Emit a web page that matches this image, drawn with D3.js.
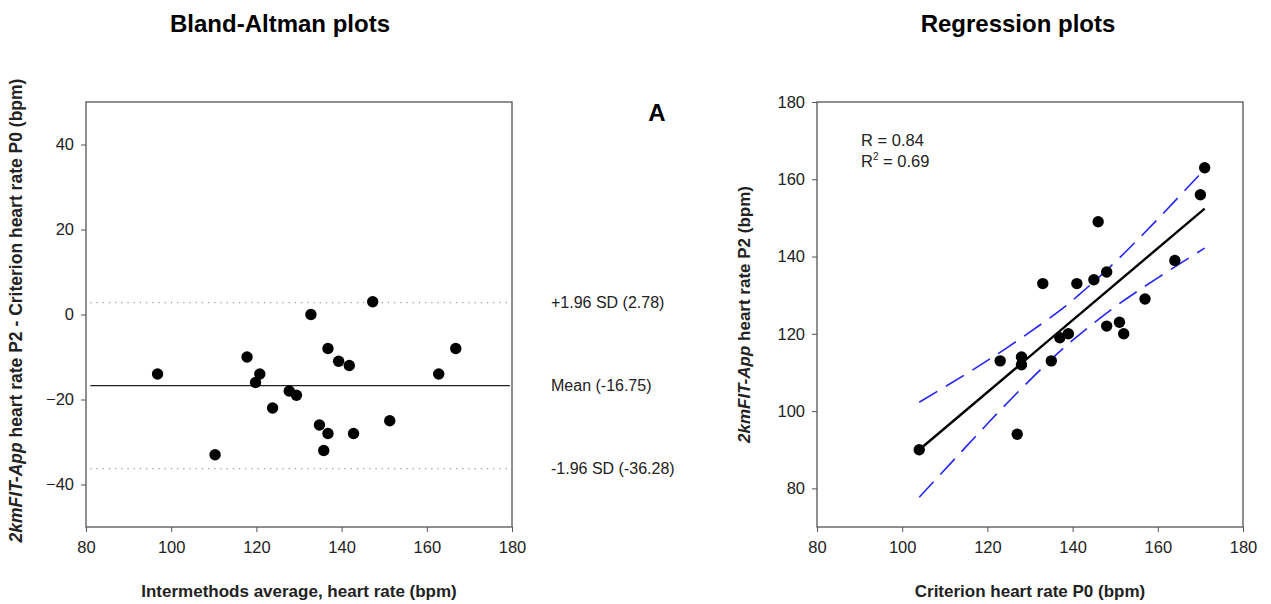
<!DOCTYPE html>
<html>
<head>
<meta charset="utf-8">
<script src="https://cdn.jsdelivr.net/npm/d3@7"></script>
<style>
  body { margin: 0; background: #fff; }
  svg { display: block; font-family: Arial, "Liberation Sans", sans-serif; }
  .tick text { font-size: 16.5px; fill: #222; }
  .tick line { stroke: #555; }
</style>
</head>
<body>
<div id="chart"></div>
<script>
// Bland-Altman panel
var baAvg = [96.8, 110.3, 117.8, 120.8, 119.8, 123.8, 127.7, 129.4, 132.8, 134.8, 135.8, 136.8, 136.8, 139.3, 141.8, 142.8, 147.3, 151.3, 162.8, 166.8];
var baDiff = [-14, -33, -10, -14, -16, -22, -18, -19, 0, -26, -32, -28, -8, -11, -12, -28, 3, -25, -14, -8];
var baLines = [2.78, -16.75, -36.28];
var baLineLabels = ["+1.96 SD (2.78)", "Mean (-16.75)", "-1.96 SD (-36.28)"];
var baYTicks = [-40, -20, 0, 20, 40];

// Regression panel
var regP0 = [104, 123, 128, 128, 127, 133, 135, 137, 139, 141, 145, 146, 148, 148, 151, 152, 157, 164, 170, 171];
var regP2 = [90, 113, 114, 112, 94, 133, 113, 119, 120, 133, 134, 149, 136, 122, 123, 120, 129, 139, 156, 163];
var fitX = [104, 171];
var fitY = [90.0, 152.4];
var bandX = [104, 115, 125, 135, 141.4, 150, 160, 171];
var bandUpper = [102.3, 109.6, 116.7, 124.4, 130, 138.6, 149.7, 162.6];
var bandLower = [77.7, 90.8, 102.5, 113.4, 119.6, 127, 134.5, 142.2];
var regYTicks = [80, 100, 120, 140, 160, 180];

var xTicks = [80, 100, 120, 140, 160, 180];

var W = 1271, H = 604;
var plotTop = 102, plotBottom = 527;

var svg = d3.select("#chart").append("svg").attr("width", W).attr("height", H);

function drawAxes(g, xs, ys, yTicks) {
  g.append("g")
    .attr("transform", "translate(0," + plotBottom + ")")
    .call(d3.axisBottom(xs).tickValues(xTicks).tickSize(5).tickSizeOuter(0).tickPadding(9))
    .call(a => a.select(".domain").remove());
  g.append("g")
    .attr("transform", "translate(" + xs.range()[0] + ",0)")
    .call(d3.axisLeft(ys).tickValues(yTicks).tickSize(5).tickSizeOuter(0).tickPadding(7))
    .call(a => a.select(".domain").remove());
  g.append("rect")
    .attr("x", xs.range()[0]).attr("y", plotTop)
    .attr("width", xs.range()[1] - xs.range()[0])
    .attr("height", plotBottom - plotTop)
    .attr("fill", "none").attr("stroke", "#555").attr("stroke-width", 1.3);
}

// ---------------- left: Bland-Altman ----------------
var xs1 = d3.scaleLinear().domain([80, 180]).range([86, 512]);
var ys1 = d3.scaleLinear().domain([-50, 50]).range([plotBottom, plotTop]);
var left = svg.append("g");

left.selectAll(".baline")
  .data(baLines)
  .enter()
  .append("line")
  .attr("x1", xs1(81)).attr("x2", xs1(179.5))
  .attr("y1", d => ys1(d)).attr("y2", d => ys1(d))
  .attr("stroke", (d, i) => i == 1 ? "#222" : "#999")
  .attr("stroke-width", 1.2)
  .attr("stroke-dasharray", (d, i) => i == 1 ? null : "1.2,5");

drawAxes(left, xs1, ys1, baYTicks);

left.selectAll("circle")
  .data(baAvg)
  .enter()
  .append("circle")
  .attr("cx", d => xs1(d))
  .attr("cy", (d, i) => ys1(baDiff[i]))
  .attr("r", 5.7)
  .attr("fill", "#000");

left.selectAll(".balabel")
  .data(baLines)
  .enter()
  .append("text")
  .attr("x", 551)
  .attr("y", d => ys1(d))
  .attr("dy", "0.35em")
  .style("font-size", "16px")
  .attr("fill", "#222")
  .text((d, i) => baLineLabels[i]);

left.append("text")
  .attr("x", 657).attr("y", 121)
  .attr("text-anchor", "middle")
  .style("font-size", "24px").style("font-weight", "bold")
  .text("A");

left.append("text")
  .attr("x", 280).attr("y", 32)
  .attr("text-anchor", "middle")
  .style("font-size", "24px").style("font-weight", "bold")
  .text("Bland-Altman plots");

left.append("text")
  .attr("x", 299).attr("y", 597)
  .attr("text-anchor", "middle")
  .style("font-size", "17px").style("font-weight", "bold")
  .attr("fill", "#222")
  .text("Intermethods average, heart rate (bpm)");

var ly = left.append("text")
  .attr("transform", "translate(22," + ((plotTop + plotBottom) / 2 - 4) + ") rotate(-90)")
  .attr("text-anchor", "middle")
  .style("font-size", "17.5px").style("font-weight", "bold")
  .attr("fill", "#222");
ly.append("tspan").style("font-style", "italic").text("2kmFIT-App");
ly.append("tspan").text(" heart rate P2 - Criterion heart rate P0 (bpm)");

// ---------------- right: regression ----------------
var xs2 = d3.scaleLinear().domain([80, 180]).range([817, 1243]);
var ys2 = d3.scaleLinear().domain([70, 180]).range([plotBottom, plotTop]);
var right = svg.append("g");

drawAxes(right, xs2, ys2, regYTicks);

var bandLine = d3.line()
  .x(d => xs2(d[0]))
  .y(d => ys2(d[1]))
  .curve(d3.curveNatural);

[bandUpper, bandLower].forEach(function (band) {
  right.append("path")
    .datum(bandX.map((x, i) => [x, band[i]]))
    .attr("d", bandLine)
    .attr("fill", "none")
    .attr("stroke", "#2424f5")
    .attr("stroke-width", 1.6)
    .attr("stroke-dasharray", "21,10");
});

right.append("path")
  .datum(fitX.map((x, i) => [x, fitY[i]]))
  .attr("d", d3.line().x(d => xs2(d[0])).y(d => ys2(d[1])))
  .attr("stroke", "#000")
  .attr("stroke-width", 2.4)
  .attr("fill", "none");

right.selectAll("circle")
  .data(regP0)
  .enter()
  .append("circle")
  .attr("cx", d => xs2(d))
  .attr("cy", (d, i) => ys2(regP2[i]))
  .attr("r", 5.7)
  .attr("fill", "#000");

right.append("text")
  .attr("x", 861).attr("y", 146)
  .style("font-size", "16.5px").attr("fill", "#222")
  .text("R = 0.84");
var r2 = right.append("text")
  .attr("x", 861).attr("y", 167)
  .style("font-size", "16.5px").attr("fill", "#222");
r2.append("tspan").text("R");
r2.append("tspan").attr("dy", -7).style("font-size", "10px").text("2");
r2.append("tspan").attr("dy", 7).text(" = 0.69");

right.append("text")
  .attr("x", 1018).attr("y", 32)
  .attr("text-anchor", "middle")
  .style("font-size", "24px").style("font-weight", "bold")
  .text("Regression plots");

right.append("text")
  .attr("x", 1030).attr("y", 597)
  .attr("text-anchor", "middle")
  .style("font-size", "17px").style("font-weight", "bold")
  .attr("fill", "#222")
  .text("Criterion heart rate P0 (bpm)");

var ry = right.append("text")
  .attr("transform", "translate(750," + ((plotTop + plotBottom) / 2) + ") rotate(-90)")
  .attr("text-anchor", "middle")
  .style("font-size", "17px").style("font-weight", "bold")
  .attr("fill", "#222");
ry.append("tspan").style("font-style", "italic").text("2kmFIT-App");
ry.append("tspan").text(" heart rate P2 (bpm)");
</script>
</body>
</html>
